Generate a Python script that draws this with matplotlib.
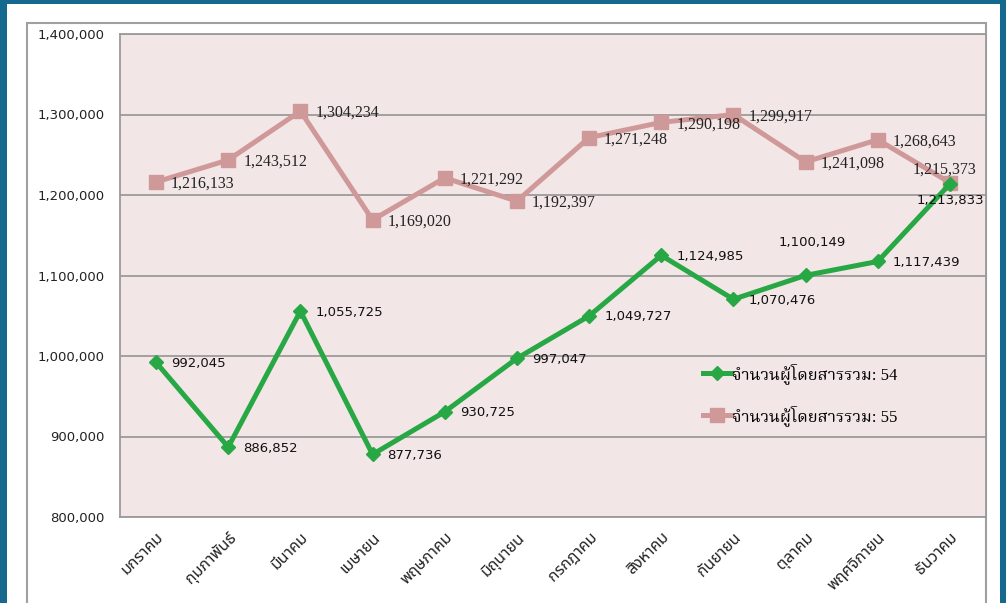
import matplotlib
matplotlib.use("Agg")
import matplotlib.pyplot as plt
from matplotlib import font_manager
from matplotlib.patches import Rectangle

# data
months = ["มกราคม", "กุมภาพันธ์", "มีนาคม", "เมษายน", "พฤษภาคม", "มิถุนายน",
          "กรกฎาคม", "สิงหาคม", "กันยายน", "ตุลาคม", "พฤศจิกายน", "ธันวาคม"]
pax_54 = [992045, 886852, 1055725, 877736, 930725, 997047,
          1049727, 1124985, 1070476, 1100149, 1117439, 1213833]
pax_55 = [1216133, 1243512, 1304234, 1169020, 1221292, 1192397,
          1271248, 1290198, 1299917, 1241098, 1268643, 1215373]
label_54 = "จำนวนผู้โดยสารรวม: 54"
label_55 = "จำนวนผู้โดยสารรวม: 55"
yticks = [800000, 900000, 1000000, 1100000, 1200000, 1300000, 1400000]

# pick a thai font that is there
have = {f.name for f in font_manager.fontManager.ttflist}
def pick(cands):
    for c in cands:
        if c in have:
            return c
    return "DejaVu Sans"
thai_sans = pick(["Noto Sans Thai", "Noto Sans Thai Looped", "Sarabun", "IBM Plex Sans Thai",
                  "Anuphan", "Athiti", "Bai Jamjuree"])
thai_serif = pick(["Noto Serif Thai", "Sarabun", "Taviraj", "Trirong", "Noto Sans Thai Looped",
                   thai_sans])

green = "#27a844"
pink = "#d09999"
blue_bg = "#15698f"

fig = plt.figure(figsize=(10.06, 6.03), dpi=100, facecolor=blue_bg)
W, H = 1006.0, 603.0

# white panel and the gray chart frame (behind the axes)
fig.patches.append(Rectangle((7 / W, 0), (1000 - 7) / W, (H - 4) / H,
                             transform=fig.transFigure, facecolor="white", edgecolor="none", zorder=-2))
fig.patches.append(Rectangle((27 / W, -0.05), (986 - 27) / W, (H - 23) / H + 0.05,
                             transform=fig.transFigure, facecolor="white", edgecolor="#a0a0a0",
                             linewidth=1.5, zorder=-1))

ax = fig.add_axes([120 / W, (H - 517) / H, 866 / W, 483 / H])
ax.set_facecolor("#f3e6e6")

x = list(range(len(months)))
ax.plot(x, pax_54, color=green, lw=3.6, marker="D", ms=7, label=label_54, zorder=4)
ax.plot(x, pax_55, color=pink, lw=3.6, marker="s", ms=10, label=label_55, zorder=3)

ax.set_xlim(-0.5, len(months) - 0.5)
ax.set_ylim(800000, 1400000)
ax.set_yticks(yticks)
ax.set_yticklabels([f"{v:,}" for v in yticks], fontsize=9.5, color="#222222")
ax.yaxis.grid(True, color="#8c8c8c", lw=1.1)
ax.set_axisbelow(True)
ax.tick_params(axis="y", length=0, pad=11)
ax.tick_params(axis="x", length=0, pad=9)
ax.set_xticks(x)
ax.set_xticklabels(months, rotation=45, ha="right", rotation_mode="anchor",
                   fontsize=11.5, family=thai_sans, color="#222222")
for s in ax.spines.values():
    s.set_color("#9a9a9a")
    s.set_linewidth(1.3)

# data labels (offsets in pixels)
off_54 = {9: (7, 33, "center"), 11: (0, -17, "center")}
off_55 = {11: (-5, 13, "center")}
for i, v in enumerate(pax_54):
    dx, dy, ha = off_54.get(i, (15, -1, "left"))
    ax.annotate(f"{v:,}", (i, v), xytext=(dx, dy), textcoords="offset pixels",
                ha=ha, va="center", fontsize=9.5, color="#111111", zorder=6)
for i, v in enumerate(pax_55):
    dx, dy, ha = off_55.get(i, (15, -2, "left"))
    ax.annotate(f"{v:,}", (i, v), xytext=(dx, dy), textcoords="offset pixels",
                ha=ha, va="center", fontsize=11.5, family="Liberation Serif",
                color="#222222", zorder=6)

leg = ax.legend(loc="upper left", bbox_to_anchor=(0.656, 0.35), frameon=False,
                handlelength=1.7, handletextpad=0.05, labelspacing=1.25,
                prop={"family": ["Liberation Serif", thai_serif], "size": 12})

fig.savefig("out.png", dpi=100, facecolor=blue_bg)
